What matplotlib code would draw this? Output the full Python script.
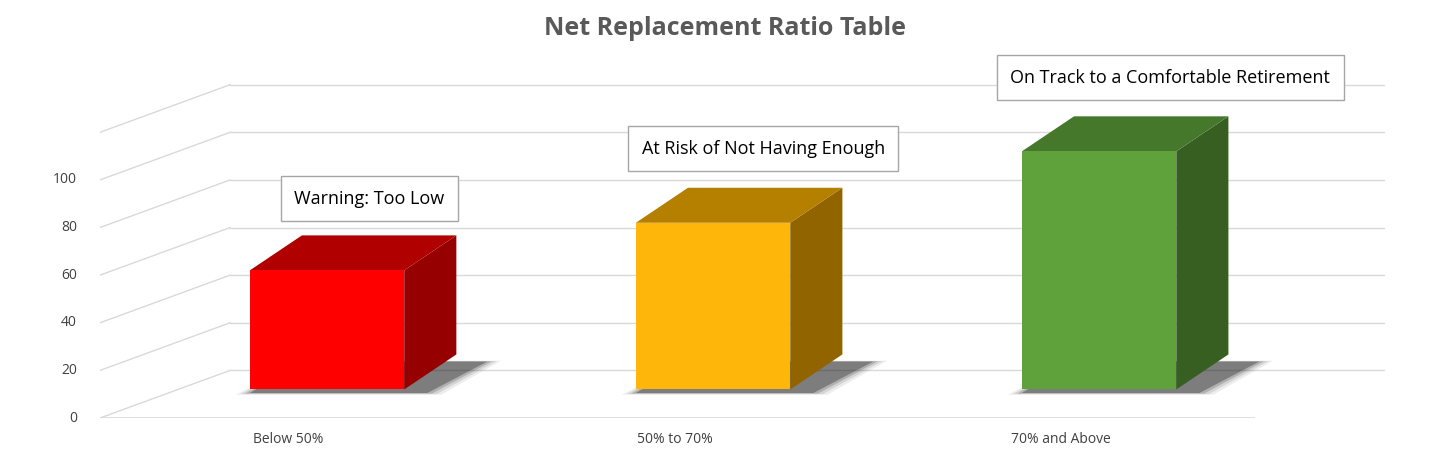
import matplotlib.pyplot as plt
from matplotlib.patches import Polygon

plt.rcParams["font.family"] = ["Open Sans", "DejaVu Sans"]

categories = ["Below 50%", "50% to 70%", "70% and Above"]
values = [50, 70, 100]
notes = ["Warning: Too Low", "At Risk of Not Having Enough",
         "On Track to a Comfortable Retirement"]
note_levels = [92, 113, 143]
y_ticks = [0, 20, 40, 60, 80, 100]

front_colors = ["#FF0000", "#FFB60A", "#5FA13A"]
top_colors = ["#B00000", "#B57F00", "#45782A"]
side_colors = ["#960000", "#926400", "#375F22"]

# fake 3d geometry, in data units
WIDTH = 0.40
BASE = 12
DX, DY = 0.135, 14.7
WALL_DX, WALL_DY = 0.337, 20
X_MIN, X_MAX = -0.588, 2.74
FLOOR_END = 2.40
GRID = "#D9D9D9"

fig = plt.figure(figsize=(14.5, 4.75), dpi=100)
ax = fig.add_axes([0.069, 0.12, 0.886, 0.796])
ax.set_xlim(X_MIN, X_MAX)
ax.set_ylim(0, 158.8)
ax.axis("off")

for v in y_ticks + [120]:
    ax.plot([X_MIN, X_MIN + WALL_DX], [v, v + WALL_DY], color=GRID, lw=1, zorder=1)
    ax.plot([X_MIN + WALL_DX, X_MAX], [v + WALL_DY, v + WALL_DY], color=GRID, lw=1, zorder=1)
ax.plot([X_MIN, FLOOR_END], [0, 0], color=GRID, lw=1.2, zorder=1)
for v in y_ticks:
    ax.text(X_MIN - 0.06, v, str(v), ha="right", va="center", fontsize=10, color="#404040")

for i, (cat, val) in enumerate(zip(categories, values)):
    x0 = i - WIDTH / 2
    x1 = i + WIDTH / 2
    top = BASE + val
    # soft shadow on the floor
    for k, a in enumerate([0.08, 0.12, 0.2, 0.35]):
        g = 0.012 * (3 - k)
        ax.add_patch(Polygon([(x0 - g, BASE - 1.5 - 2 * g * 10), (x1 + 0.06 + g, BASE - 1.5 - 2 * g * 10),
                              (x1 + DX + 0.08 + g, BASE + DY - 3 + g * 10), (x0 + DX, BASE + DY - 3 + g * 10)],
                             closed=True, color="#202020", alpha=a, lw=0, zorder=2))
    ax.add_patch(Polygon([(x1, BASE), (x1 + DX, BASE + DY), (x1 + DX, top + DY), (x1, top)],
                         closed=True, color=side_colors[i], lw=0, zorder=3))
    ax.add_patch(Polygon([(x0, top), (x1, top), (x1 + DX, top + DY), (x0 + DX, top + DY)],
                         closed=True, color=top_colors[i], lw=0, zorder=3))
    ax.add_patch(Polygon([(x0, BASE), (x1, BASE), (x1, top), (x0, top)],
                         closed=True, color=front_colors[i], lw=0, zorder=4))
    ax.text(i - 0.10, -9, cat, ha="center", va="center", fontsize=10, color="#404040")

note_x = [0.11, 1.13, 2.184]
for i, (note, lvl) in enumerate(zip(notes, note_levels)):
    ax.text(note_x[i], lvl, note, ha="center", va="center", fontsize=13, color="black",
            clip_on=False, zorder=5,
            bbox=dict(boxstyle="square,pad=0.75", fc="white", ec="#A6A6A6", lw=1))

fig.text(0.5, 0.94, "Net Replacement Ratio Table", ha="center", va="center",
         fontsize=18, fontweight="bold", color="#595959")

fig.savefig("out.png")
